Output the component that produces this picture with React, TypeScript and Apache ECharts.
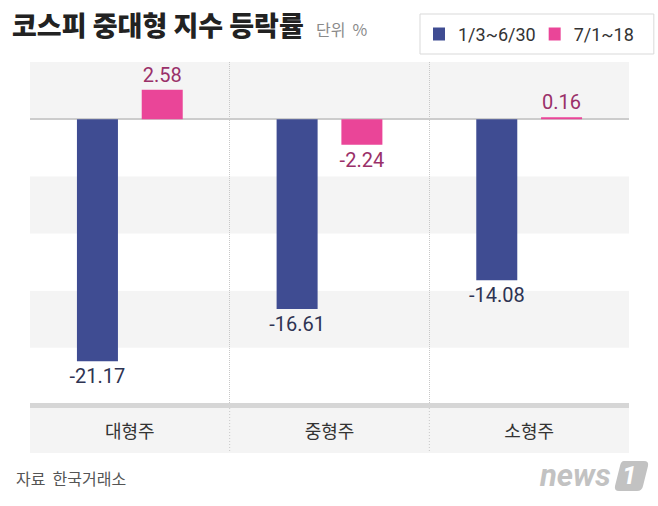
import React, { useEffect, useRef } from "react";
import * as echarts from "echarts";

const categories = ["대형주", "중형주", "소형주"];
const seriesNames = ["1/3~6/30", "7/1~18"];
const firstHalf = [-21.17, -16.61, -14.08];
const july = [2.58, -2.24, 0.16];
const yMin = -25;
const yMax = 5;
const yInterval = 5;

const title = "코스피 중대형 지수 등락률";
const unitText = "단위  %";
const sourceText = "자료  한국거래소";

const BLUE = "#3f4c92";
const PINK = "#ea4598";
const BLUE_LABEL = "#2e3352";
const PINK_LABEL = "#9a3069";

const badgePath =
  "M9,0 L29,0 Q34,0 33,5 L28,25 Q27,30 22,30 L4,30 Q-1,30 0,25 L5,5 Q6,0 9,0 Z";
echarts.graphic.registerShape("logo", echarts.graphic.extendPath(badgePath, {}) as any);

const KR = "'Noto Sans CJK KR', 'Noto Sans', sans-serif";
const NUM = "Roboto, 'Noto Sans', sans-serif";

function makeData(values: number[]) {
  return values.map((v) => ({
    value: v,
    label: { position: v < 0 ? "bottom" : "top" },
  }));
}

export default function App() {
  const ref = useRef<HTMLDivElement>(null);
  useEffect(() => {
    if (!ref.current) return;
    const chart = echarts.init(ref.current, undefined, { renderer: "svg" });
    const gridLeft = 30;
    const gridWidth = 599;
    const bandTop = 408;
    const bandBottom = 453;
    const dividerLines = [1, 2].map((i) => ({
      type: "line",
      z: -5,
      shape: {
        x1: gridLeft + (gridWidth * i) / categories.length,
        y1: bandTop,
        x2: gridLeft + (gridWidth * i) / categories.length,
        y2: bandBottom,
      },
      style: { stroke: "#c8c8c8", lineWidth: 1, lineDash: [1, 2] },
    }));
    const option: any = {
      animation: false,
      backgroundColor: "#ffffff",
      grid: { left: gridLeft, width: gridWidth, top: 62, bottom: 101 },
      legend: {
        left: 420,
        top: 14,
        icon: "rect",
        itemWidth: 12,
        itemHeight: 13,
        itemGap: 13,
        padding: [11, 20, 11, 13],
        borderColor: "#d9d9d9",
        borderWidth: 1,
        textStyle: {
          fontFamily: NUM,
          fontSize: 18,
          color: "#333333",
          lineHeight: 13,
          padding: [0, 0, 0, 8],
        },
        data: seriesNames,
      },
      xAxis: {
        type: "category",
        data: categories,
        axisLine: {
          show: true,
          onZero: false,
          lineStyle: { color: "#d6d6d6", width: 5, cap: "butt" },
        },
        axisTick: { show: false },
        axisLabel: { margin: 16, fontSize: 18, color: "#333333", fontFamily: KR },
        splitLine: {
          show: true,
          showMinLine: false,
          showMaxLine: false,
          lineStyle: { color: "#c8c8c8", type: "dotted", width: 1 },
        },
      },
      yAxis: {
        type: "value",
        min: yMin,
        max: yMax,
        interval: yInterval,
        axisLine: { show: false },
        axisTick: { show: false },
        axisLabel: { show: false },
        splitLine: { show: false },
        splitArea: { show: true, areaStyle: { color: ["#ffffff", "#f4f4f4"] } },
      },
      series: [
        {
          name: seriesNames[0],
          type: "bar",
          z: 3,
          data: makeData(firstHalf),
          barWidth: 41,
          barGap: "58%",
          itemStyle: { color: BLUE },
          label: {
            show: true,
            distance: 5,
            fontFamily: NUM,
            fontSize: 20,
            color: BLUE_LABEL,
            formatter: (p: any) => Number(p.value).toFixed(2),
          },
          markLine: {
            silent: true,
            z: 1,
            symbol: ["none", "none"],
            label: { show: false },
            lineStyle: { color: "#cccccc", width: 2, type: "solid" },
            data: [{ yAxis: 0 }],
          },
        },
        {
          name: seriesNames[1],
          type: "bar",
          z: 3,
          data: makeData(july),
          barWidth: 41,
          barGap: "58%",
          itemStyle: { color: PINK },
          label: {
            show: true,
            distance: 5,
            fontFamily: NUM,
            fontSize: 20,
            color: PINK_LABEL,
            formatter: (p: any) => Number(p.value).toFixed(2),
          },
        },
      ],
      graphic: [
        {
          type: "text",
          left: 12,
          top: 11,
          style: {
            text: title,
            font: `900 27px ${KR}`,
            fill: "#222222",
          },
        },
        {
          type: "text",
          left: 316,
          top: 21,
          style: { text: unitText, font: `16px ${KR}`, fill: "#8a8a8a" },
        },
        {
          type: "rect",
          z: -10,
          shape: { x: gridLeft, y: bandTop, width: gridWidth, height: bandBottom - bandTop },
          style: { fill: "#f4f4f4" },
        },
        ...dividerLines,
        {
          type: "text",
          left: 16,
          top: 470,
          style: { text: sourceText, font: `16px ${KR}`, fill: "#555555" },
        },
        {
          type: "text",
          left: 540,
          top: 460,
          style: {
            text: "news",
            font: `italic bold 31px ${NUM}`,
            fill: "#c2c2c2",
          },
        },
        {
          type: "logo",
          x: 615,
          y: 461,
          scaleX: 1,
          scaleY: 1,
          style: { fill: "#c2c2c2" },
        },
        {
          type: "text",
          left: 622,
          top: 462,
          style: {
            text: "1",
            font: `italic bold 26px ${NUM}`,
            fill: "#ffffff",
          },
        },
      ],
    };
    chart.setOption(option);
    return () => chart.dispose();
  }, []);
  return (
    <div
      ref={ref}
      style={{ position: "fixed", left: 0, top: 0, width: 658, height: 506 }}
    />
  );
}
